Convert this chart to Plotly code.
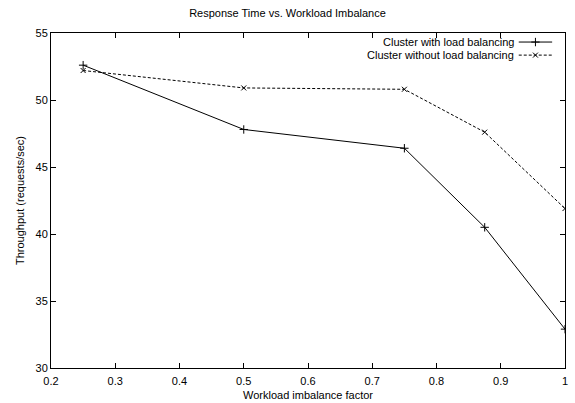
import plotly.graph_objects as go

x_vals = [0.25, 0.5, 0.75, 0.875, 1.0]
with_lb = [52.6, 47.8, 46.4, 40.5, 32.9]
without_lb = [52.2, 50.9, 50.8, 47.6, 41.9]
names = ["Cluster with load balancing", "Cluster without load balancing"]
x_ticks = [0.2, 0.3, 0.4, 0.5, 0.6, 0.7, 0.8, 0.9, 1]
y_ticks = [30, 35, 40, 45, 50, 55]

FONT = "Liberation Sans, Arial, sans-serif"

fig = go.Figure()
fig.add_trace(go.Scatter(x=x_vals, y=with_lb, mode="lines+markers", name=names[0],
                         line=dict(color="black", width=1),
                         marker=dict(symbol="cross-thin-open", size=6, color="black",
                                     line=dict(color="black", width=1)),
                         showlegend=False))
fig.add_trace(go.Scatter(x=x_vals, y=without_lb, mode="lines+markers", name=names[1],
                         line=dict(color="black", width=1, dash="3px,2px"),
                         marker=dict(symbol="x-thin-open", size=5, color="black",
                                     line=dict(color="black", width=1)),
                         showlegend=False))

# Legend (text on left, sample on right, gnuplot style)
leg_y = [0.973, 0.934]
for i, nm in enumerate(names):
    fig.add_annotation(xref="paper", yref="paper", x=0.904, y=leg_y[i], text=nm,
                       showarrow=False, xanchor="right", yanchor="middle",
                       font=dict(family=FONT, size=11, color="black"))
    fig.add_shape(type="line", xref="paper", yref="paper", x0=0.91, x1=0.975,
                  y0=leg_y[i], y1=leg_y[i],
                  line=dict(color="black", width=1, dash="solid" if i == 0 else "3px,2px"))
fig.add_trace(go.Scatter(x=[0.9425], y=[leg_y[0]], xaxis="x2", yaxis="y2", mode="markers",
                         marker=dict(symbol="cross-thin-open", size=6, color="black",
                                     line=dict(color="black", width=1)),
                         showlegend=False, hoverinfo="skip"))
fig.add_trace(go.Scatter(x=[0.9425], y=[leg_y[1]], xaxis="x2", yaxis="y2", mode="markers",
                         marker=dict(symbol="x-thin-open", size=5, color="black",
                                     line=dict(color="black", width=1)),
                         showlegend=False, hoverinfo="skip"))

fig.update_layout(
    width=575, height=403,
    margin=dict(l=51, r=10, t=33, b=35),
    paper_bgcolor="white", plot_bgcolor="white",
    font=dict(family=FONT, size=11, color="black"),
    title=dict(text="Response Time vs. Workload Imbalance", x=0.5, xanchor="center",
               y=0.968, yanchor="middle", font=dict(size=11)),
    xaxis=dict(range=[0.2, 1.0], tickvals=x_ticks, ticktext=[str(v) for v in x_ticks],
               ticks="inside", ticklen=5, tickcolor="black", showline=True, linecolor="black",
               linewidth=1, mirror="ticks", showgrid=False, zeroline=False,
               ticklabelstandoff=3, automargin=False,
               title=dict(text="Workload imbalance factor", standoff=5, font=dict(size=11))),
    yaxis=dict(range=[30, 55], tickvals=y_ticks, ticks="inside", ticklen=5, tickcolor="black",
               showline=True, linecolor="black", linewidth=1, mirror="ticks", showgrid=False,
               zeroline=False, automargin=False,
               title=dict(text="Throughput (requests/sec)", standoff=8, font=dict(size=11))),
    xaxis2=dict(range=[0, 1], overlaying="x", visible=False, fixedrange=True),
    yaxis2=dict(range=[0, 1], overlaying="y", visible=False, fixedrange=True),
)

fig.write_html("out.html")
